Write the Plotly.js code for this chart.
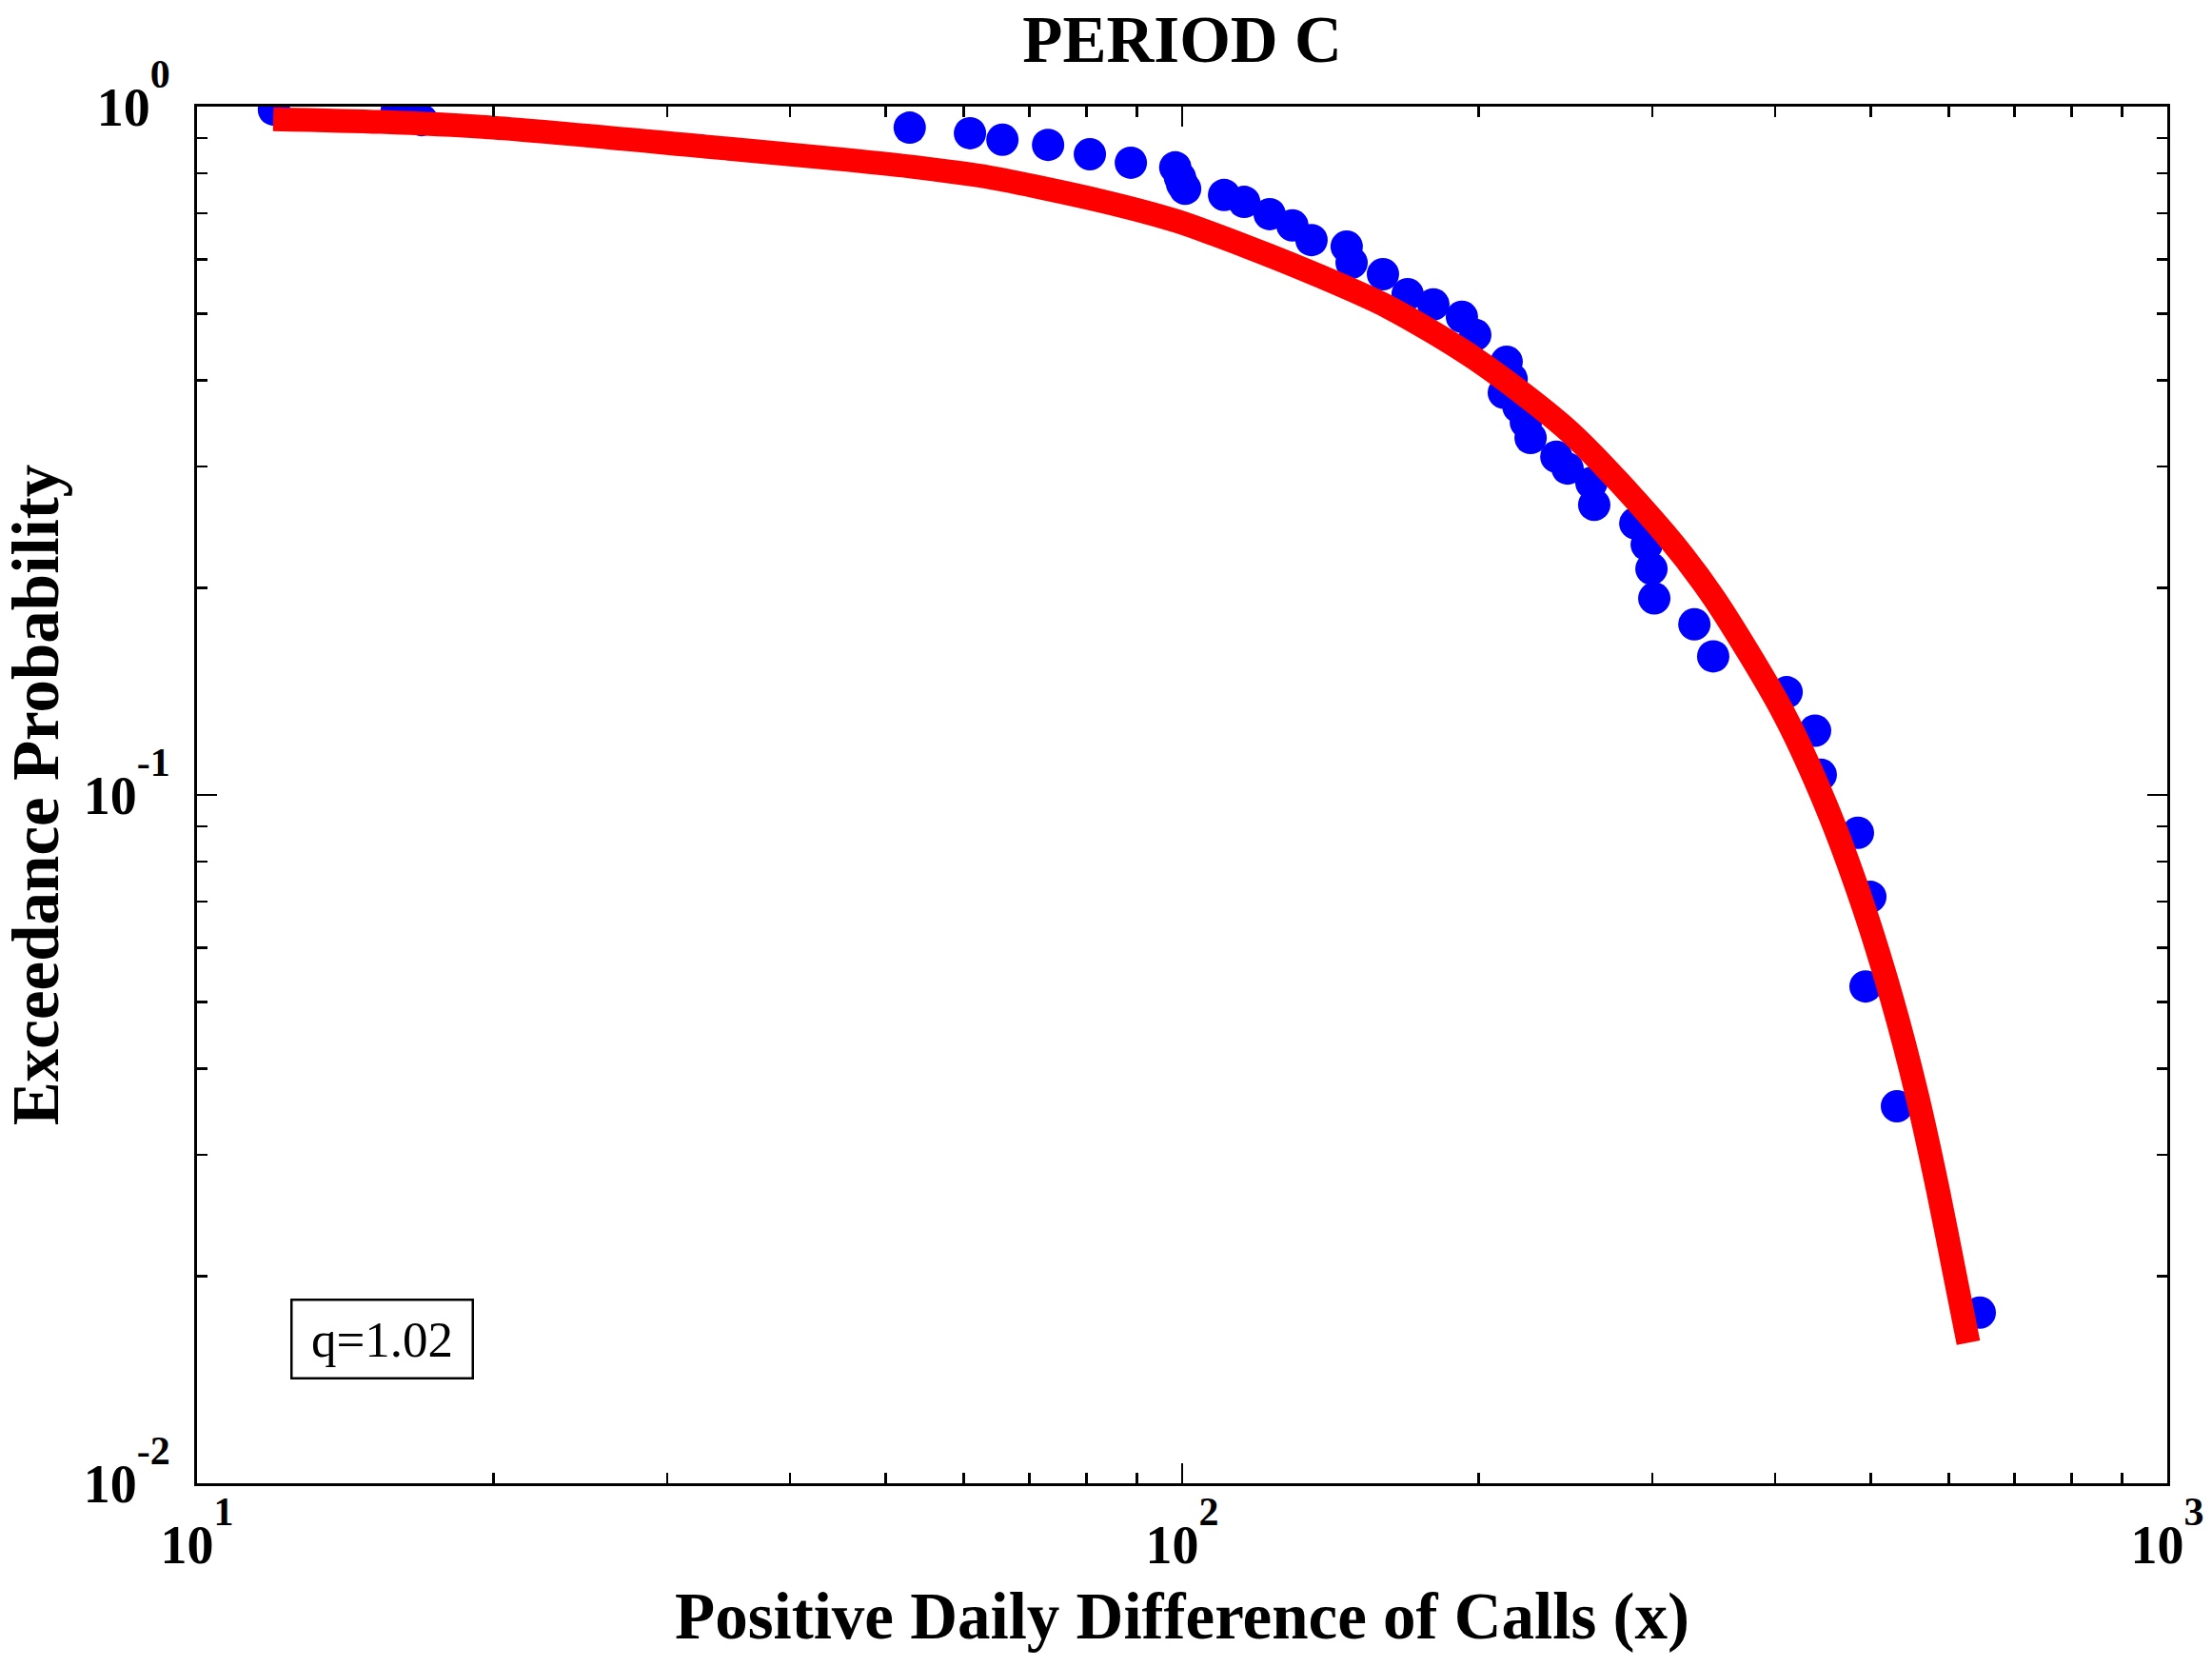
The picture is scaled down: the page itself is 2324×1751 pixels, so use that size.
<!DOCTYPE html>
<html>
<head>
<meta charset="utf-8">
<script src="https://cdn.plot.ly/plotly-3.0.1.min.js"></script>
<style>html,body{margin:0;padding:0;background:#fff;}</style>
</head>
<body>
<div id="chart" style="width:2324px;height:1751px;"></div>
<script>
// Empirical exceedance probability (blue dots)
const dataX = [11.97, 15.95, 16.9, 52.9, 60.9, 65.7, 73.1, 80.6, 88.7, 98.4, 99.5, 100.0, 100.7,
  110.3, 115.6, 122.7, 129.4, 135.3, 146.9, 148.6, 159.9, 169.4, 179.9, 192.3, 198.4,
  213.5, 216.0, 212.1, 219.5, 223.3, 225.8, 239.8, 246.2, 260.3, 262.0, 288.4, 296.2,
  299.5, 301.5, 331.1, 346.0, 410.8, 439.0, 444.9, 485.3, 499.6, 494.0, 531.6, 645.2];
const dataY = [0.990, 0.987, 0.956, 0.932, 0.915, 0.895, 0.880, 0.853, 0.829, 0.816, 0.789, 0.772, 0.760,
  0.744, 0.727, 0.698, 0.672, 0.640, 0.626, 0.593, 0.571, 0.534, 0.516, 0.495, 0.466,
  0.426, 0.402, 0.384, 0.366, 0.348, 0.330, 0.310, 0.298, 0.284, 0.264, 0.248, 0.231,
  0.213, 0.193, 0.177, 0.159, 0.141, 0.124, 0.107, 0.0881, 0.0711, 0.0527, 0.0353, 0.0177];

// q-exponential fit (red curve)
const fitX = [11.95, 15.37, 20.0, 32.8, 45.7, 53.9, 63.5, 82.6, 98.7, 116.3, 137.2, 162.1, 198.4,
  247.9, 309.6, 346.0, 407.2, 449.9, 490.8, 525.7, 557.0, 585.0, 611.6, 628.2];
const fitY = [0.959, 0.950, 0.932, 0.875, 0.837, 0.816, 0.790, 0.730, 0.682, 0.626, 0.569, 0.511, 0.430,
  0.336, 0.239, 0.194, 0.132, 0.0969, 0.0693, 0.0504, 0.0367, 0.0267, 0.0194, 0.0160];

const xTickVals = [10, 100, 1000];
const xTickExp = ['1', '2', '3'];
const yTickVals = [0.01, 0.1, 1];
const yTickExp = ['-2', '-1', '0'];

const titleText = 'PERIOD C';
const xTitle = 'Positive Daily Difference of Calls (x)';
const yTitle = 'Exceedance Probability';
const qLabel = 'q=1.02';

const TICK_SIZE = 56;
const EXP_SIZE = 42;
function powerLabel(e) {
  return '10<sup><sup><span style="font-size:' + EXP_SIZE + 'px">' + e + '</span></sup></sup>';
}

function minorVals(lo, hi) {
  const v = [];
  for (let e = lo; e < hi; e++) {
    for (let d = 2; d <= 9; d++) v.push(d * Math.pow(10, e));
  }
  return v;
}

const FONT = 'Liberation Serif, Times New Roman, serif';

const traces = [
  {
    x: dataX, y: dataY, type: 'scatter', mode: 'markers',
    marker: {symbol: 'circle', size: 34, color: 'rgb(0,0,255)', line: {width: 0}},
    hoverinfo: 'x+y', showlegend: false
  },
  {
    x: fitX, y: fitY, type: 'scatter', mode: 'lines',
    line: {color: 'rgb(255,0,0)', width: 25, shape: 'spline', smoothing: 0.8},
    hoverinfo: 'x+y', showlegend: false
  }
];

const axisCommon = {
  type: 'log',
  tickmode: 'array',
  ticks: 'inside', ticklen: 21, tickwidth: 2.5, tickcolor: '#000',
  showline: true, linewidth: 3, linecolor: '#000', mirror: 'allticks',
  showgrid: false, zeroline: false,
  tickfont: {family: FONT, size: TICK_SIZE, color: '#000', weight: 'bold'}
};

const layout = {
  width: 2324, height: 1751,
  margin: {l: 207, r: 47, t: 112, b: 193, pad: 0},
  paper_bgcolor: '#fff', plot_bgcolor: '#fff',
  title: {
    text: titleText, x: 0.5, xref: 'paper', xanchor: 'center',
    y: 1 - 65 / 1751, yref: 'container', yanchor: 'bottom',
    font: {family: FONT, size: 69, color: '#000', weight: 'bold'}
  },
  xaxis: Object.assign({}, axisCommon, {
    range: [1, 3],
    tickvals: xTickVals, ticktext: xTickExp.map(powerLabel),
    minor: {tickmode: 'array', tickvals: minorVals(1, 3), ticks: 'inside', ticklen: 11, tickwidth: 2.5, tickcolor: '#000', showgrid: false},
    ticklabelstandoff: 14,
    title: {text: xTitle, standoff: 20, font: {family: FONT, size: 69, color: '#000', weight: 'bold'}},
    automargin: false
  }),
  yaxis: Object.assign({}, axisCommon, {
    range: [-2, 0],
    tickvals: yTickVals, ticktext: yTickExp.map(powerLabel),
    minor: {tickmode: 'array', tickvals: minorVals(-2, 0), ticks: 'inside', ticklen: 11, tickwidth: 2.5, tickcolor: '#000', showgrid: false},
    ticklabelstandoff: 14,
    title: {text: yTitle, standoff: 20, font: {family: FONT, size: 69, color: '#000', weight: 'bold'}},
    automargin: false
  }),
  annotations: [{
    text: qLabel, xref: 'paper', yref: 'paper',
    x: 0.094, y: 0.105, xanchor: 'center', yanchor: 'middle',
    showarrow: false,
    font: {family: FONT, size: 53, color: '#000'},
    bordercolor: '#000', borderwidth: 2.5, borderpad: 8,
    width: 172, height: 64, bgcolor: '#fff'
  }]
};

Plotly.newPlot('chart', traces, layout, {displayModeBar: false, staticPlot: true});
</script>
</body>
</html>
